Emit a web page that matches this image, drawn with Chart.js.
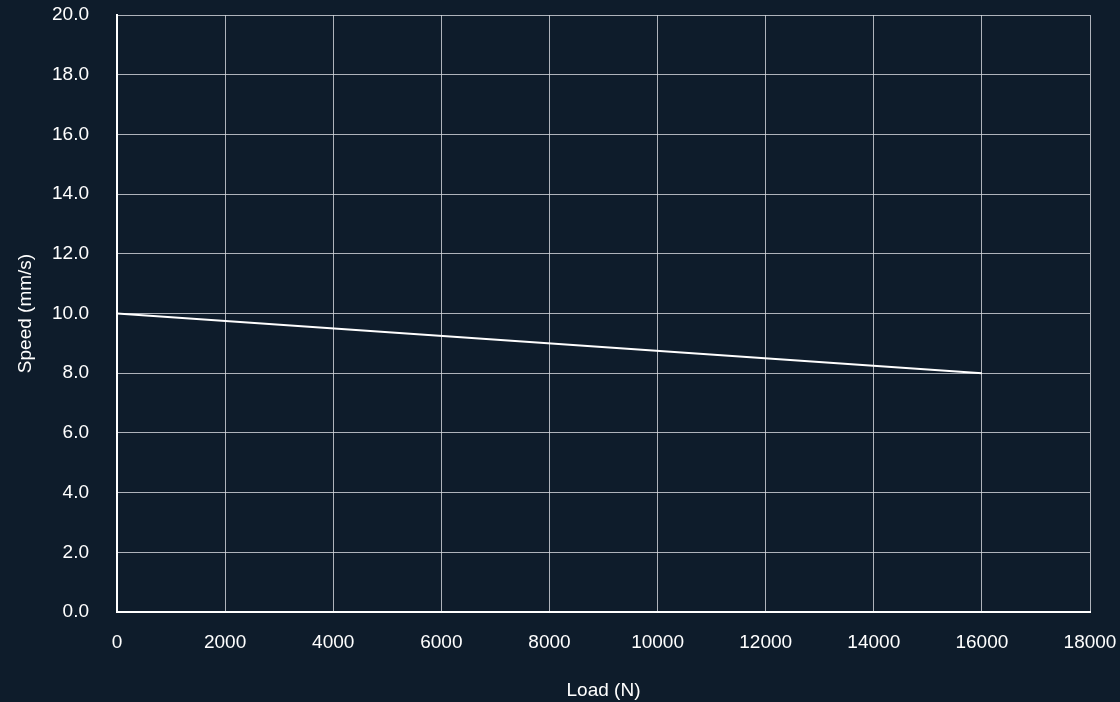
<!DOCTYPE html>
<html>
<head>
<meta charset="utf-8">
<script src="https://cdn.jsdelivr.net/npm/chart.js@4.4.0/dist/chart.umd.min.js"></script>
<style>
  html, body { margin: 0; padding: 0; background: #0e1c2b; }
  #wrap { width: 1120px; height: 702px; }
</style>
</head>
<body>
<div id="wrap"><canvas id="chart" width="1120" height="702"></canvas></div>
<script>
const loads = [0, 16000];      // Load (N)
const speeds = [10.0, 8.0];    // Speed (mm/s)
const xTicks = [0, 2000, 4000, 6000, 8000, 10000, 12000, 14000, 16000, 18000];
const yTicks = [0, 2, 4, 6, 8, 10, 12, 14, 16, 18, 20];

const gridColor = "rgba(215, 218, 224, 0.8)";
const textColor = "#ffffff";
const font = { family: "Liberation Sans, Arial, sans-serif", size: 19 };

const points = loads.map((x, i) => ({ x: x, y: speeds[i] }));

new Chart(document.getElementById("chart"), {
  type: "scatter",
  data: {
    datasets: [{
      data: points,
      showLine: true,
      borderColor: "#ffffff",
      borderWidth: 2,
      pointRadius: 0,
      fill: false,
    }],
  },
  options: {
    responsive: false,
    animation: false,
    layout: { padding: { top: 15, right: 30, left: 0, bottom: 0 } },
    plugins: {
      legend: { display: false },
      tooltip: { enabled: false },
    },
    scales: {
      x: {
        type: "linear",
        min: 0,
        max: 18000,
        afterBuildTicks: (axis) => { axis.ticks = xTicks.map(v => ({ value: v })); },
        ticks: { color: textColor, font: font, padding: 19, maxRotation: 0, callback: (v) => String(v) },
        grid: { color: gridColor, lineWidth: 1, drawTicks: false },
        border: { color: "#ffffff", width: 2 },
        title: { display: true, text: "Load (N)", color: textColor, font: font, padding: { top: 20, bottom: 0 } },
        afterFit: (axis) => {
          axis.height = 90;
          axis.paddingLeft = 0;
          axis.paddingRight = 0;
        },
      },
      y: {
        min: 0,
        max: 20,
        afterBuildTicks: (axis) => { axis.ticks = yTicks.map(v => ({ value: v })); },
        ticks: { color: textColor, font: font, padding: 28, callback: (v) => v.toFixed(1) },
        grid: { color: gridColor, lineWidth: 1, drawTicks: false },
        border: { color: "#ffffff", width: 2 },
        title: { display: true, text: "Speed (mm/s)", color: textColor, font: font, padding: { top: 14, bottom: 0 } },
        afterFit: (axis) => {
          axis.width = 117;
          axis.paddingTop = 0;
          axis.paddingBottom = 0;
        },
      },
    },
  },
});
</script>
</body>
</html>
